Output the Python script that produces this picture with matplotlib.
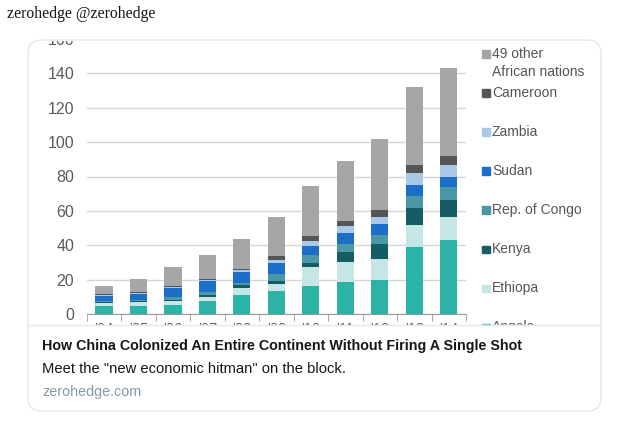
import matplotlib
matplotlib.use("Agg")
import matplotlib.pyplot as plt
from matplotlib.patches import FancyBboxPatch, Rectangle
import numpy as np

W, H = 621, 422

years = ["'04", "'05", "'06", "'07", "'08", "'09", "'10", "'11", "'12", "'13", "'14"]

# stacked segments, bottom to top (US$ bn)
angola = [4.5, 4.8, 5.0, 7.4, 11.0, 13.2, 16.5, 18.6, 19.8, 38.9, 42.8]
ethiopa = [2.0, 2.0, 2.4, 2.5, 4.1, 4.2, 10.6, 11.4, 12.3, 13.0, 13.7]
kenya = [0.3, 0.6, 0.5, 0.9, 1.6, 2.0, 2.3, 6.2, 8.8, 9.9, 9.7]
congo = [0.7, 0.5, 1.8, 2.0, 1.3, 3.8, 4.7, 4.7, 5.2, 6.6, 7.8]
sudan = [3.2, 3.7, 5.4, 6.2, 6.2, 6.4, 5.6, 6.5, 6.2, 6.7, 6.0]
zambia = [0.5, 0.6, 0.6, 0.9, 1.2, 1.6, 2.9, 3.9, 4.4, 6.8, 6.8]
cameroon = [0.4, 0.6, 0.4, 0.6, 0.9, 2.7, 2.9, 3.1, 3.9, 4.9, 5.4]
other = [4.9, 7.7, 11.0, 13.6, 17.3, 22.6, 29.1, 34.7, 41.1, 45.5, 51.1]

series = [
    ("Angola", angola, "#2db3a6"),
    ("Ethiopa", ethiopa, "#c5e6e4"),
    ("Kenya", kenya, "#145d65"),
    ("Rep. of Congo", congo, "#4a97a8"),
    ("Sudan", sudan, "#1c6ec8"),
    ("Zambia", zambia, "#aac9e8"),
    ("Cameroon", cameroon, "#555555"),
    ("49 other\nAfrican nations", other, "#a6a6a6"),
]


def fx(x):
    return x / W


def fy(y):
    return 1 - y / H


fig = plt.figure(figsize=(W / 100, H / 100), dpi=100)
fig.patch.set_facecolor("white")

# chart axes (pixel box: x 86.7..466, y 39..314)
ax = fig.add_axes([fx(86.7), fy(314), (466 - 86.7) / W, (314 - 39) / H])
x = np.arange(len(years))
bottom = np.zeros(len(years))
for name, vals, col in series:
    ax.bar(x, vals, width=0.5, bottom=bottom, color=col, zorder=3)
    bottom += np.array(vals)

ax.set_xlim(-0.5, len(years) - 0.5)
ax.set_ylim(0, 160)
ax.set_yticks(range(0, 161, 20))
ax.grid(axis="y", color="#d6d6d6", linewidth=1, zorder=0)
for s in ["left", "right", "top"]:
    ax.spines[s].set_visible(False)
ax.spines["bottom"].set_color("#9a9a9a")
ax.tick_params(axis="y", length=0, pad=9, labelsize=11.5, labelcolor="#5a5a5a")
ax.set_xticks(x)
ax.set_xticklabels(years, fontsize=10.5, color="#5a5a5a")
ax.tick_params(axis="x", length=0, pad=5.5)
ax.set_xticks(np.arange(-0.5, len(years)), minor=True)
ax.tick_params(axis="x", which="minor", length=5, color="#9a9a9a", direction="out")
for lab in ax.get_yticklabels() + ax.get_xticklabels():
    lab.set_fontfamily("Liberation Sans")

# legend, drawn by hand to follow the original spacing
leg_y = [327, 288, 249, 210, 171, 132, 93, 54]
for (name, vals, col), yy in zip(series, leg_y):
    fig.patches.append(Rectangle((fx(482), fy(yy + 4)), 7.5 / W, 7.5 / H,
                                 transform=fig.transFigure, color=col, zorder=0.5))
    if "\n" in name:
        fig.text(fx(492), fy(yy - 7), name, fontsize=10, color="#555555", va="top",
                 family="Liberation Sans", linespacing=1.35, zorder=0.5)
    else:
        fig.text(fx(492), fy(yy), name, fontsize=10, color="#555555", va="center",
                 family="Liberation Sans", zorder=0.5)

# cover everything outside the card image area
fig.patches.append(Rectangle((0, fy(40)), 1, 40 / H, transform=fig.transFigure,
                             color="white", zorder=1))
fig.patches.append(Rectangle((fx(29), fy(410)), (600 - 29) / W, (410 - 325) / H,
                             transform=fig.transFigure, color="white", zorder=1))

# card border and separator
card = FancyBboxPatch((fx(28), fy(411)), (601 - 28) / W, (411 - 40) / H,
                      boxstyle="round,pad=0,rounding_size=0.022",
                      transform=fig.transFigure, facecolor="none",
                      edgecolor="#e1e8ed", linewidth=1, zorder=2, mutation_aspect=W / H)
fig.patches.append(card)
fig.add_artist(plt.Line2D([fx(28), fx(601)], [fy(325), fy(325)], transform=fig.transFigure,
                          color="#e1e8ed", linewidth=1, zorder=2))

fig.text(fx(7), fy(14), "zerohedge @zerohedge", fontsize=11.3, family="Liberation Serif",
         color="#14171a", va="center", zorder=3)
fig.text(fx(42), fy(346), "How China Colonized An Entire Continent Without Firing A Single Shot",
         fontsize=10.3, fontweight="bold", family="Liberation Sans", color="#14171a", va="center", zorder=3)
fig.text(fx(42), fy(369), 'Meet the "new economic hitman" on the block.',
         fontsize=10.6, family="Liberation Sans", color="#14171a", va="center", zorder=3)
fig.text(fx(42), fy(392), "zerohedge.com", fontsize=10.4, family="Liberation Sans",
         color="#8899a6", va="center", zorder=3)

fig.savefig("out.png", dpi=100)
